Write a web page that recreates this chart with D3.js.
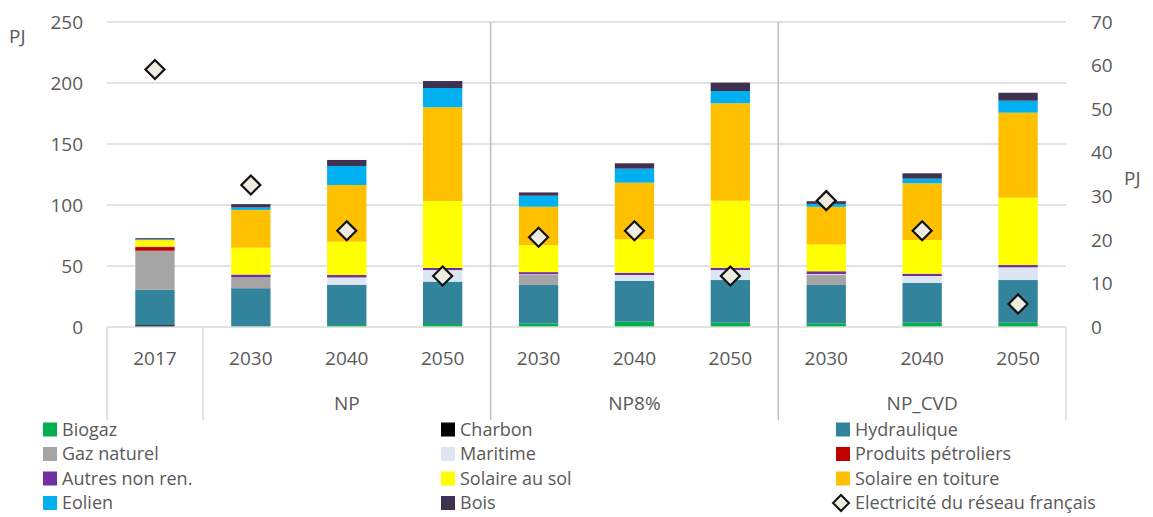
<!DOCTYPE html>
<html><head><meta charset="utf-8">
<script src="https://cdn.jsdelivr.net/npm/d3@7"></script>
<style>
body{margin:0;background:#fff;}
svg{font-family:"Open Sans", Lato, "Liberation Sans", sans-serif;}
</style></head>
<body><svg id="c" width="1153" height="517"></svg>
<script>
const categories = ["2017","2030","2040","2050","2030","2040","2050","2030","2040","2050"];
const groupLabels = ["", "NP", "NP8%", "NP_CVD"];
const groupStarts = [0, 1, 4, 7];
const groupEnds = [0, 3, 6, 9];
const leftTicks = [0, 50, 100, 150, 200, 250];
const rightTicks = [0, 10, 20, 30, 40, 50, 60, 70];

const seriesNames = ["Biogaz","Charbon","Hydraulique","Gaz naturel","Maritime","Produits pétroliers","Autres non ren.","Solaire au sol","Solaire en toiture","Eolien","Bois"];
const biogaz      = [0, 0.8, 1.6, 2.5, 3.0, 4.4, 3.5, 3.0, 3.5, 3.5];
const charbon     = [1.5, 0, 0, 0, 0, 0, 0, 0, 0, 0];
const hydraulique = [29, 31, 33, 34.7, 31.4, 33.3, 35, 31.4, 32.8, 35];
const gazNaturel  = [32, 9, 0, 0, 8.3, 0, 0, 8.5, 0, 0];
const maritime    = [0, 0, 6, 9.5, 0.5, 4.9, 8.2, 0.5, 5.5, 10.4];
const petroliers  = [3, 0, 0, 0, 0, 0, 0, 0, 0, 0];
const autres      = [0.4, 2.2, 2, 1.7, 1.8, 1.9, 1.9, 2.3, 1.9, 1.9];
const solaireSol  = [5, 22, 27.3, 54.9, 22.1, 27.4, 54.9, 21.9, 27.6, 55.2];
const solaireToit = [0.5, 31, 46.5, 76.8, 31.5, 46.4, 79.9, 30.9, 46.5, 69.7];
const eolien      = [0.4, 2, 15.6, 15.8, 9, 11.5, 10, 2.4, 3.8, 9.8];
const bois        = [1, 2.7, 4.9, 5.7, 2.7, 4.4, 6.9, 2.2, 4.4, 6.5];
const elecReseau  = [59.1, 32.6, 22.1, 11.7, 20.6, 22.1, 11.7, 29, 22.1, 5.3];
const elecName = "Electricité du réseau français";

const seriesValues = [biogaz, charbon, hydraulique, gazNaturel, maritime, petroliers, autres, solaireSol, solaireToit, eolien, bois];
const colors = ["#00B050","#000000","#31849B","#A5A5A5","#DCE6F2","#C00000","#7030A0","#FFFF00","#FFC000","#00B0F0","#403151"];

const svg = d3.select("#c");
const L = 107, R = 1066, T = 22, B = 327;
const x = d3.scaleBand().domain(d3.range(categories.length)).range([L, R]).paddingInner(0.59).paddingOuter(0.295);
const y = d3.scaleLinear().domain([0, 250]).range([B, T]);
const y2 = d3.scaleLinear().domain([0, 70]).range([B, T]);
const txt = "#595959";
const fs = 19;

// gridlines
svg.append("g").selectAll("line").data(leftTicks.slice(1)).join("line")
  .attr("x1", L).attr("x2", R).attr("y1", d => y(d)).attr("y2", d => y(d))
  .attr("stroke", "#d9d9d9").attr("stroke-width", 1.5);

// axis labels
svg.append("g").selectAll("text").data(leftTicks).join("text")
  .attr("x", 83).attr("y", d => y(d)).attr("dy", "0.35em").attr("text-anchor", "end")
  .attr("fill", txt).attr("font-size", fs).text(d => d);
svg.append("g").selectAll("text").data(rightTicks).join("text")
  .attr("x", 1091).attr("y", d => y2(d)).attr("dy", "0.35em").attr("text-anchor", "start")
  .attr("fill", txt).attr("font-size", fs).text(d => d);
svg.append("text").attr("x", 9).attr("y", 36).attr("dy", "0.35em").attr("fill", txt).attr("font-size", fs).text("PJ");
svg.append("text").attr("x", 1124).attr("y", 178).attr("dy", "0.35em").attr("fill", txt).attr("font-size", fs).text("PJ");

// stacked bars
const rows = categories.map((c, i) => {
  const o = {i};
  seriesNames.forEach((s, k) => o[s] = seriesValues[k][i]);
  return o;
});
const stack = d3.stack().keys(seriesNames)(rows);
svg.append("g").selectAll("g").data(stack).join("g").attr("fill", (d, k) => colors[k])
  .selectAll("rect").data(d => d).join("rect")
  .attr("x", d => x(d.data.i)).attr("width", x.bandwidth())
  .attr("y", d => y(d[1])).attr("height", d => Math.max(0, y(d[0]) - y(d[1])));

// axis line and separators
const step = x.step();
const sepX = i => x(i) + x.bandwidth() / 2 - step / 2;
svg.append("line").attr("x1", L).attr("x2", R).attr("y1", B).attr("y2", B).attr("stroke", "#d9d9d9").attr("stroke-width", 1.5);
const seps = [0, 1, 4, 7, 10];
svg.append("g").selectAll("line").data(seps).join("line")
  .attr("x1", d => d === 10 ? R : sepX(d)).attr("x2", d => d === 10 ? R : sepX(d))
  .attr("y1", d => (d === 4 || d === 7) ? T : B).attr("y2", 420)
  .attr("stroke", d => (d === 4 || d === 7) ? "#bfbfbf" : "#d9d9d9").attr("stroke-width", 1.5);

// category labels
svg.append("g").selectAll("text").data(categories).join("text")
  .attr("x", (d, i) => x(i) + x.bandwidth() / 2).attr("y", 358).attr("dy", "0.35em")
  .attr("text-anchor", "middle").attr("fill", txt).attr("font-size", fs).text(d => d);
svg.append("g").selectAll("text").data(groupLabels).join("text")
  .attr("x", (d, g) => (x(groupStarts[g]) + x(groupEnds[g]) + x.bandwidth()) / 2).attr("y", 403).attr("dy", "0.35em")
  .attr("text-anchor", "middle").attr("fill", txt).attr("font-size", fs).text(d => d);

// diamonds
const dsz = 9.5;
const diamond = (cx, cy, s) => `M${cx},${cy - s}L${cx + s},${cy}L${cx},${cy + s}L${cx - s},${cy}Z`;
svg.append("g").selectAll("path").data(elecReseau).join("path")
  .attr("d", (d, i) => diamond(x(i) + x.bandwidth() / 2, y2(d), dsz))
  .attr("fill", "#EEECE1").attr("stroke", "#111").attr("stroke-width", 2.2);

// legend
const colX = [43, 441, 836];
const rowY = [429.5, 454, 478.5, 503];
const legItems = seriesNames.map((n, k) => ({name: n, color: colors[k], type: "rect"}));
legItems.push({name: elecName, type: "diamond"});
const lg = svg.append("g").selectAll("g").data(legItems).join("g")
  .attr("transform", (d, k) => `translate(${colX[k % 3]},${rowY[Math.floor(k / 3)]})`);
lg.filter(d => d.type === "rect").append("rect").attr("x", 0).attr("y", -7).attr("width", 14).attr("height", 14).attr("fill", d => d.color);
lg.filter(d => d.type === "diamond").append("path").attr("d", diamond(5, 0, 8)).attr("fill", "#EEECE1").attr("stroke", "#111").attr("stroke-width", 2);
lg.append("text").attr("x", 19).attr("y", 0).attr("dy", "0.35em").attr("fill", txt).attr("font-size", 18).text(d => d.name);
</script></body></html>
